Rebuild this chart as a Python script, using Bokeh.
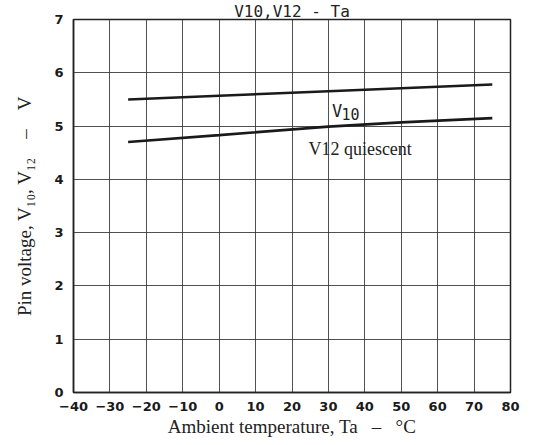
from bokeh.plotting import figure
from bokeh.models import Range1d, FixedTicker, Label
from bokeh.embed import file_html
from bokeh.resources import INLINE

# Data
ta_v10 = [-25, 0, 25, 50, 75]
v10 = [5.50, 5.57, 5.64, 5.71, 5.78]
ta_v12 = [-25, 0, 30, 50, 75]
v12 = [4.70, 4.83, 4.99, 5.07, 5.15]
x_ticks = [-40, -30, -20, -10, 0, 10, 20, 30, 40, 50, 60, 70, 80]
y_ticks = [0, 1, 2, 3, 4, 5, 6, 7]

p = figure(width=542, height=439, output_backend="svg", toolbar_location=None,
           x_range=Range1d(-40, 80), y_range=Range1d(0, 7),
           min_border_left=73, min_border_right=32, min_border_top=19, min_border_bottom=45)

p.title.text = "V10,V12 - Ta"
p.title.align = "center"
p.title.offset = 14
p.title.text_font = "DejaVu Sans Mono"
p.title.text_font_style = "normal"
p.title.text_font_size = "16px"
p.title.text_color = "#222222"
p.title.standoff = -2

p.line(ta_v10, v10, line_color="#1a1a1a", line_width=2.6)
p.line(ta_v12, v12, line_color="#1a1a1a", line_width=2.6)

for ax in (p.xaxis, p.yaxis):
    ax.major_tick_line_color = None
    ax.minor_tick_line_color = None
    ax.axis_line_color = "#222222"
    ax.axis_line_width = 1.5
    ax.major_label_text_font = "DejaVu Sans"
    ax.major_label_text_font_style = "bold"
    ax.major_label_text_font_size = "13px"
    ax.major_label_text_color = "#1a1a1a"
    ax.axis_label_text_font = "Liberation Serif"
    ax.axis_label_text_font_style = "normal"
    ax.axis_label_text_font_size = "19px"
    ax.axis_label_text_color = "#222222"

p.xaxis.ticker = FixedTicker(ticks=x_ticks)
p.yaxis.ticker = FixedTicker(ticks=y_ticks)
p.xaxis.major_label_standoff = 3
p.yaxis.major_label_standoff = 4
nb = "\u00a0"
p.xaxis.axis_label = "Ambient temperature, Ta" + nb * 3 + "\u2013" + nb * 3 + "\u00b0C"
p.yaxis.axis_label = "Pin voltage, V\u2081\u2080, V\u2081\u2082" + nb * 4 + "\u2013" + nb * 4 + "V"
p.xaxis.axis_label_standoff = 2
p.yaxis.axis_label_standoff = 16

p.xgrid.grid_line_color = "#333333"
p.ygrid.grid_line_color = "#333333"
p.xgrid.grid_line_width = 1
p.ygrid.grid_line_width = 1
p.grid.grid_line_alpha = 0.85

p.outline_line_color = "#222222"
p.outline_line_width = 1.5
p.background_fill_color = "white"
p.border_fill_color = "white"

p.add_layout(Label(x=31, y=5.28, text="V", text_font="DejaVu Sans Mono",
                   text_font_size="17px", text_baseline="middle", text_color="#222222"))
p.add_layout(Label(x=33.6, y=5.22, text="10", text_font="DejaVu Sans Mono",
                   text_font_size="15px", text_baseline="middle", text_color="#222222"))
p.add_layout(Label(x=24.5, y=4.57, text="V12 quiescent", text_font="Liberation Serif",
                   text_font_size="18px", text_baseline="middle", text_color="#222222"))

open("out.html", "w").write(file_html(p, INLINE))
